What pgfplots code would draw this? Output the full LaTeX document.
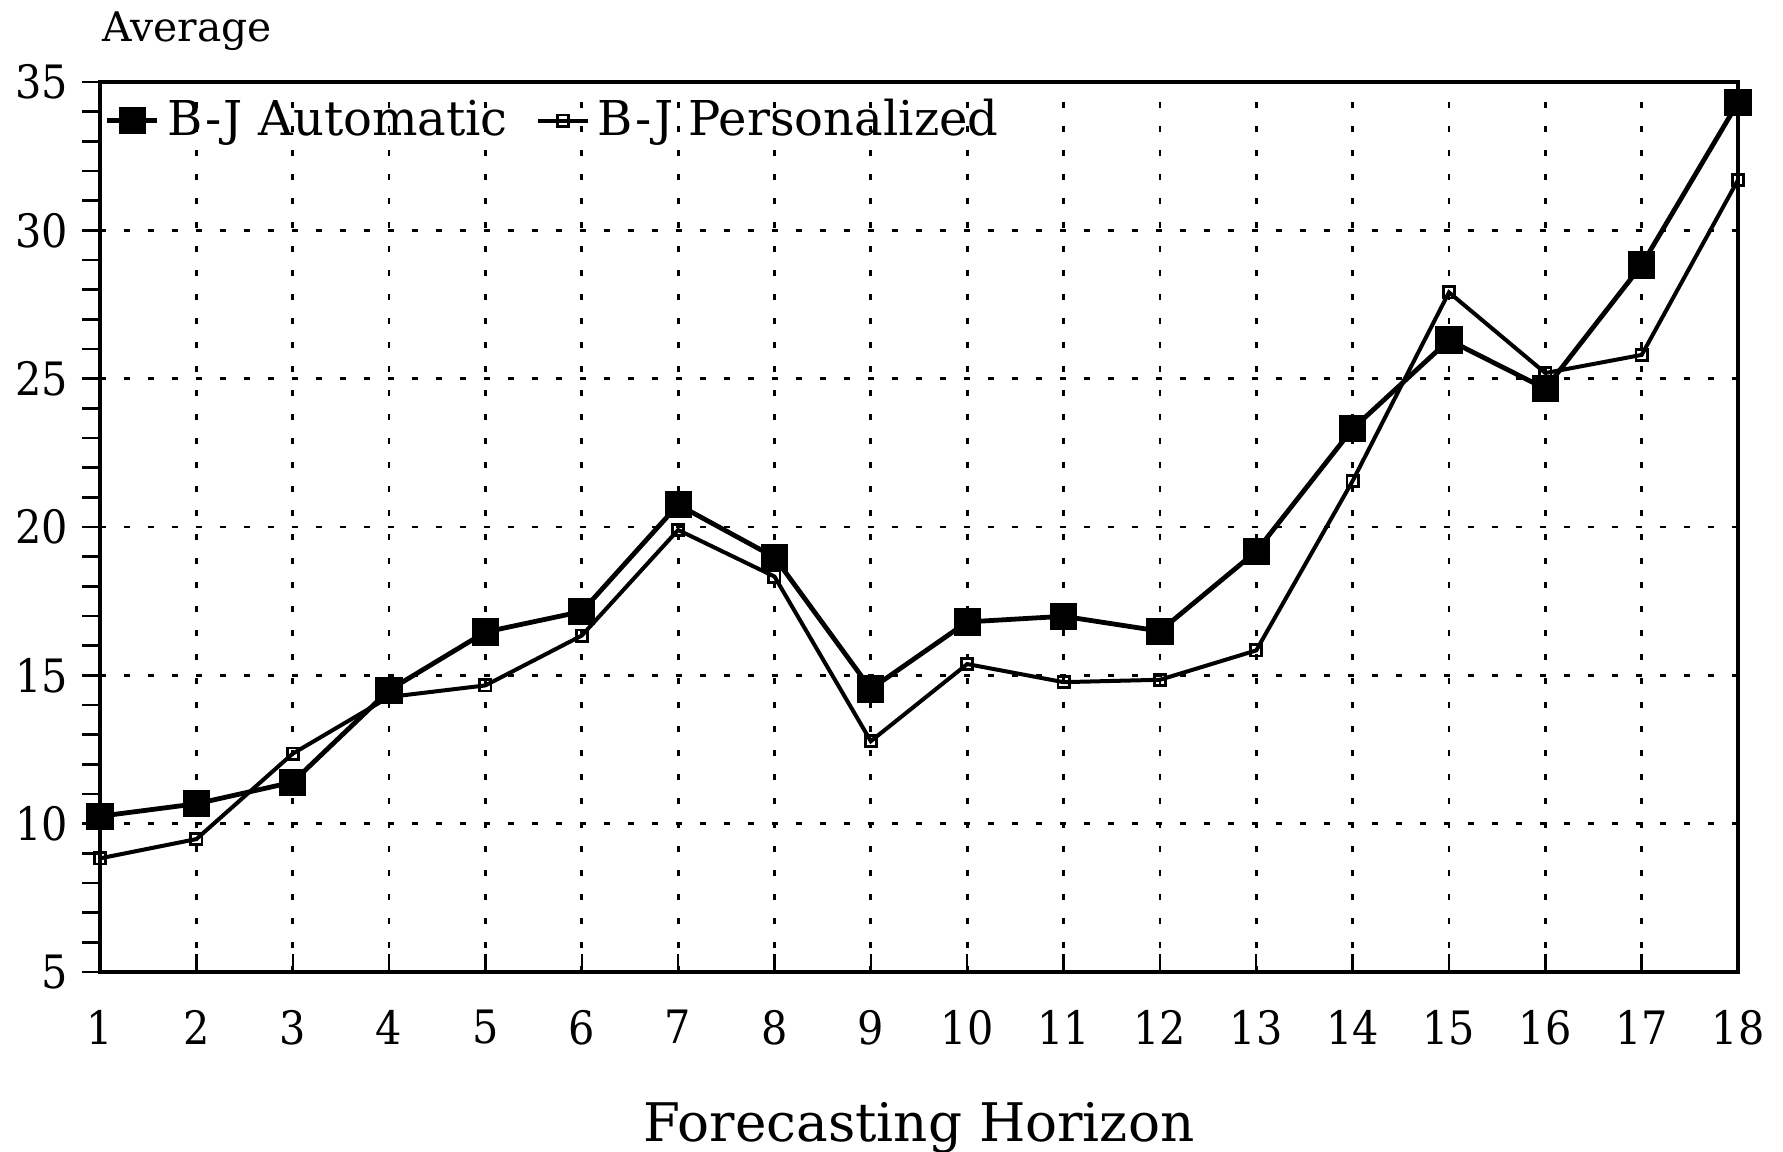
\documentclass[border=0pt]{standalone}
\usepackage{pgfplots}
\pgfplotsset{compat=1.18}
\usepackage{fontspec}
\setmainfont{DejaVu Serif}
\newfontfamily\condfont{DejaVu Serif Condensed}
\begin{document}
\begin{tikzpicture}
\useasboundingbox (-25pt,-45pt) rectangle (420.75pt,243pt);
\begin{axis}[
  at={(0,0)}, anchor=south west,
  scale only axis, width=409.5pt, height=222.5pt,
  xmin=1, xmax=18, ymin=5, ymax=35,
  xtick={1,...,18}, ytick={5,10,...,35}, minor y tick num=4,
  xtick pos=bottom, ytick pos=left,
  xtick align=inside, ytick align=outside,
  major tick length=4.5pt, minor tick length=4.5pt,
  every tick/.style={black, line width=0.6pt},
  axis line style={line width=0.9pt},
  grid=major,
  major grid style={black, line width=0.7pt, dash pattern=on 1.6pt off 4.4pt},
  /pgf/number format/assume math mode=true,
  xticklabel style={font=\condfont\fontsize{11.5}{13}\selectfont, yshift=-6pt},
  yticklabel style={font=\condfont\fontsize{11.5}{13}\selectfont},
  xlabel={Forecasting Horizon},
  xlabel style={font=\fontsize{13.3}{15}\selectfont, yshift=-7.5pt},
  legend columns=2,
  legend style={draw=none, fill=none, at={(axis cs:1,33.7)}, anchor=west,
    font=\fontsize{12}{13}\selectfont, inner xsep=1pt,
    /tikz/every even column/.append style={column sep=5pt}},
  legend image code/.code={\draw[mark repeat=2,mark phase=2,#1] plot coordinates {(0cm,0cm) (0.22cm,0cm) (0.44cm,0cm)};},
]
\addplot[black, line width=1.2pt, mark=square*, mark size=2.8pt, mark options={solid}]
coordinates {(1,10.25) (2,10.67) (3,11.4) (4,14.5) (5,16.46) (6,17.15) (7,20.75) (8,18.98) (9,14.54) (10,16.8) (11,16.99) (12,16.49) (13,19.18) (14,23.31) (15,26.3) (16,24.66) (17,28.83) (18,34.31)};
\addlegendentry{B\kern0.6pt-\kern0.6ptJ Automatic}
\addplot[black, line width=1.0pt, mark=square, mark size=1.4pt, mark options={solid, fill=white, line width=0.7pt}]
coordinates {(1,8.83) (2,9.48) (3,12.36) (4,14.27) (5,14.66) (6,16.34) (7,19.9) (8,18.33) (9,12.78) (10,15.38) (11,14.77) (12,14.85) (13,15.84) (14,21.55) (15,27.91) (16,25.19) (17,25.8) (18,31.7)};
\addlegendentry{B\kern0.6pt-\kern0.6ptJ Personalized}
\end{axis}
\node[anchor=base west, font=\fontsize{10.2}{11}\selectfont, inner sep=0pt] at (0.5pt,232.5pt) {Average};
\end{tikzpicture}
\end{document}
